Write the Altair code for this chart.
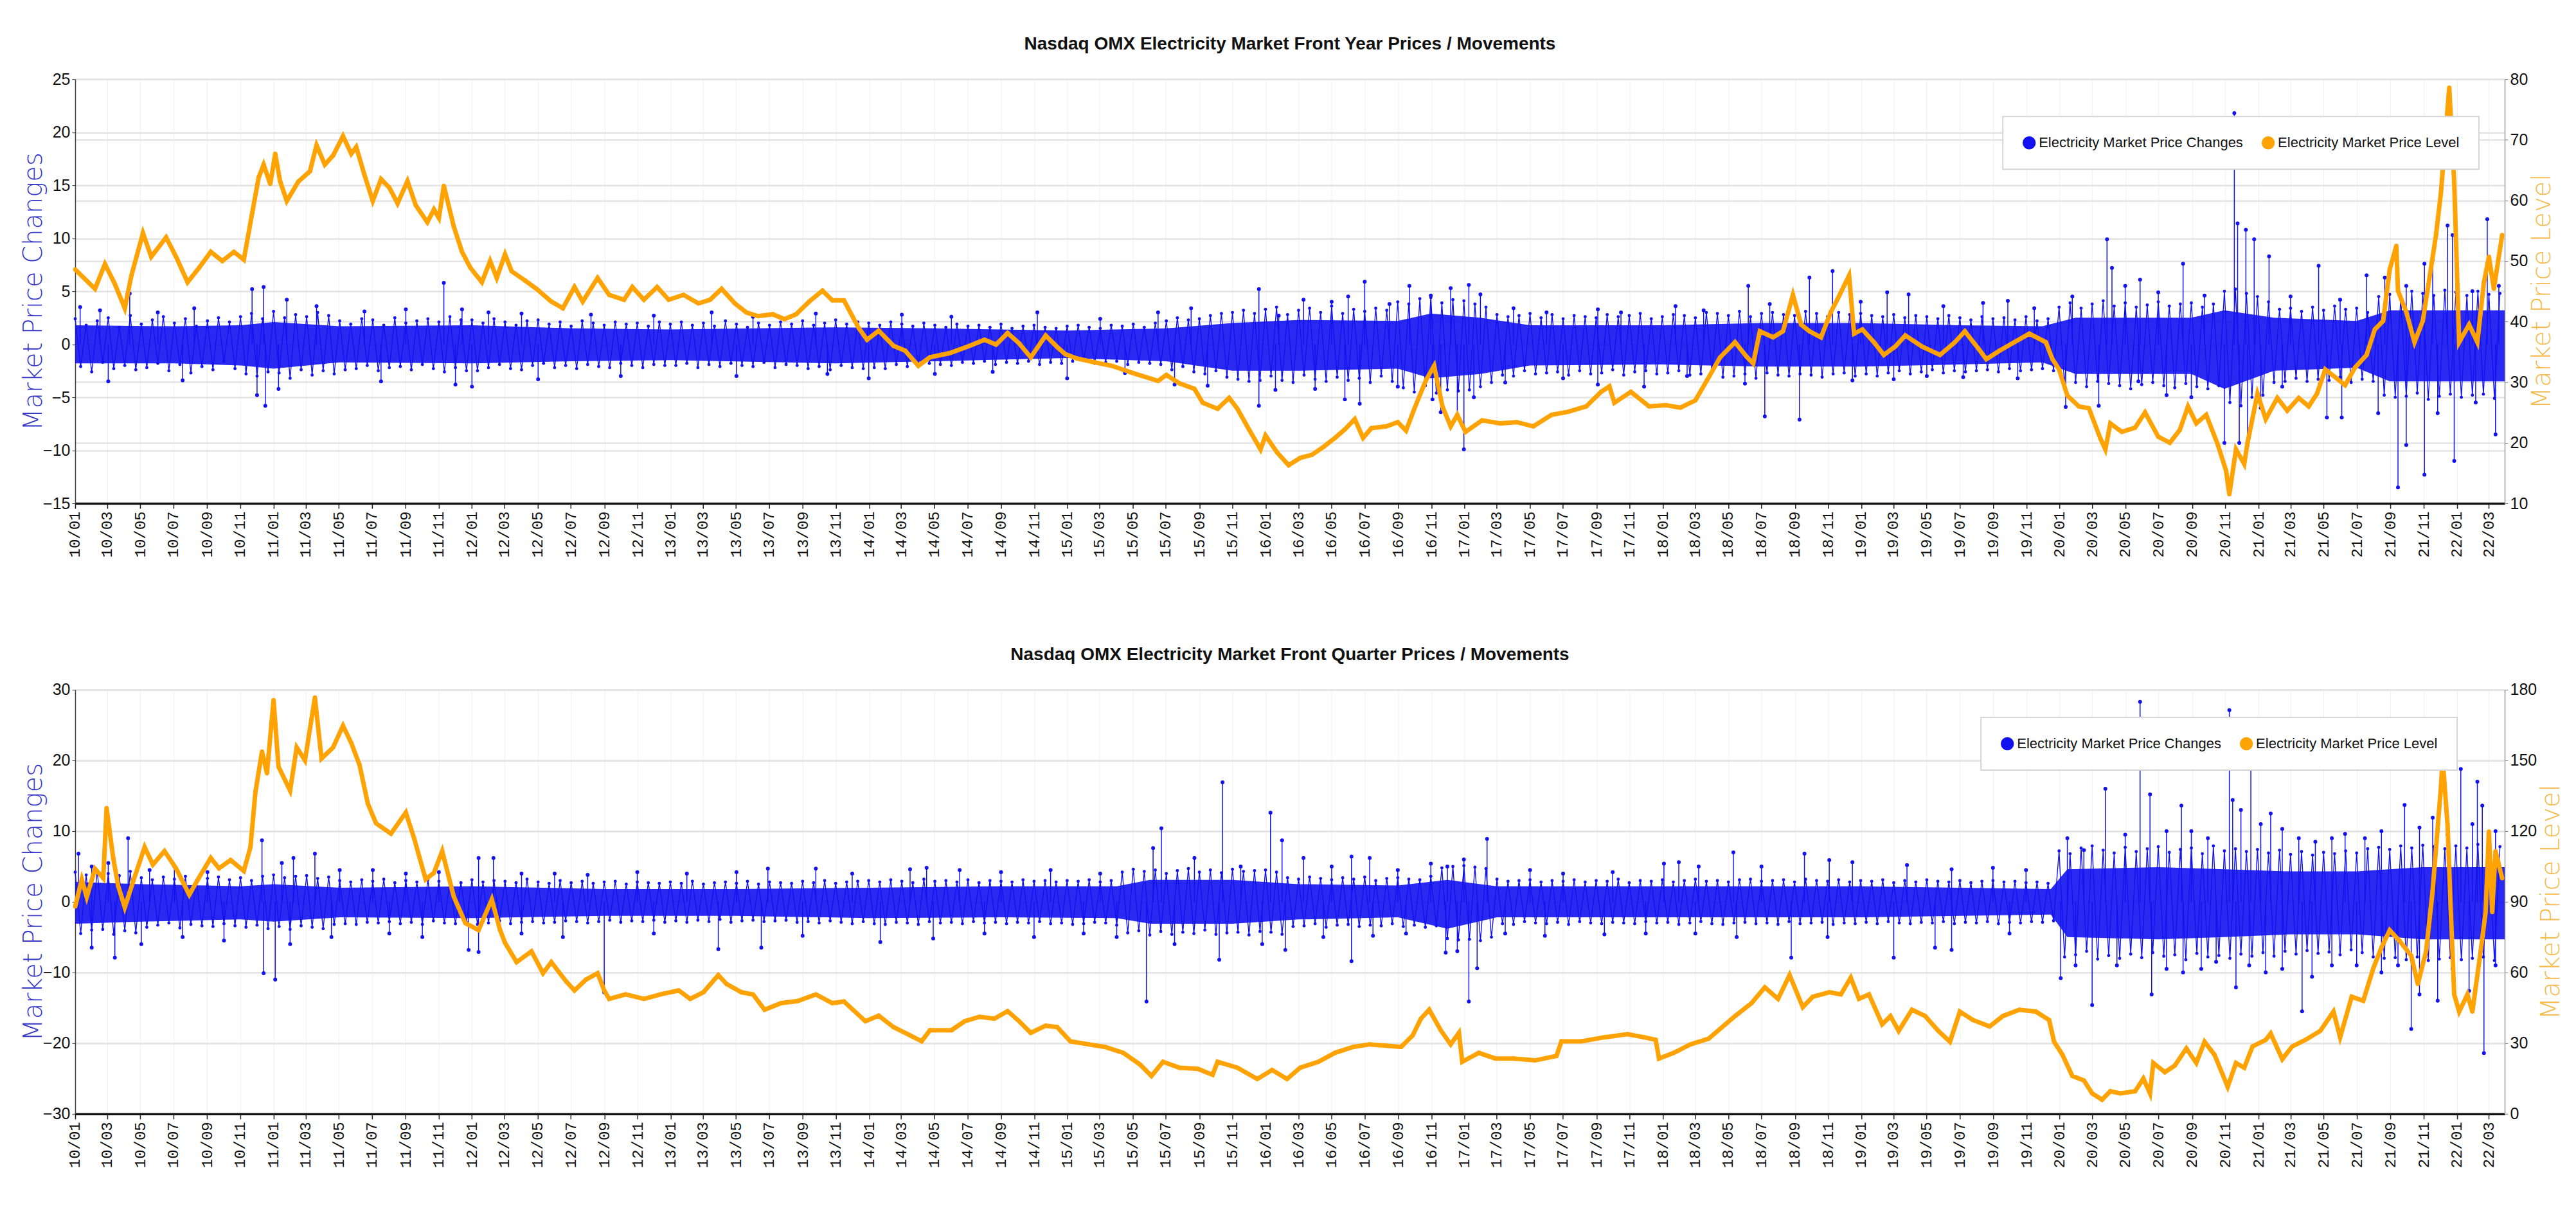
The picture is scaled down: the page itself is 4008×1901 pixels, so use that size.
import altair as alt
import pandas as pd

# ---------------------------------------------------------------- constants
SERIES = ["Electricity Market Price Changes", "Electricity Market Price Level"]
BLUE = "#1212f0"
ORANGE = "#ffa305"
START = pd.Timestamp("2010-01-01")
DAYS_PER_MONTH = 4442 / 146  # 2010-01-01 .. 2022-03-01

SANSN = "Liberation Sans, Arial, sans-serif"
MONO = "Liberation Mono, DejaVu Sans Mono, monospace"
SANS = "DejaVu Sans, Verdana, sans-serif"

TITLE_FY = "Nasdaq OMX Electricity Market Front Year Prices / Movements"
TITLE_FQ = "Nasdaq OMX Electricity Market Front Quarter Prices / Movements"

# x positions are months elapsed since Jan 2010
x_tick_dates = [alt.DateTime(year=y, month=m, date=1)
                for y in range(2010, 2023) for m in (1, 3, 5, 7, 9, 11)
                if not (y == 2022 and m > 3)]

# ---------------------------------------------------------------- Front Year
fy_level_m = [0, 1.2, 1.8, 2.4, 3.0, 3.4, 4.1, 4.6, 5.5, 6.1, 6.8, 7.5, 8.2, 8.9, 9.6, 10.2, 10.7, 11.1,
              11.4, 11.8, 12.1, 12.4, 12.8, 13.5, 14.2, 14.6, 15.1, 15.6, 16.2, 16.7, 17.0, 17.5, 18.0,
              18.5, 19.0, 19.5, 20.1, 20.6, 21.3, 21.7, 22.0, 22.3, 22.9, 23.4, 23.9, 24.6, 25.1, 25.5,
              26.0, 26.4, 27.2, 27.9, 28.8, 29.5, 30.2, 30.7, 31.6, 32.3, 33.2, 33.7, 34.4, 35.2, 35.9,
              36.8, 37.7, 38.4, 39.1, 39.9, 40.6, 41.3, 42.2, 42.9, 43.6, 44.4, 45.2, 45.8, 46.5, 47.4,
              47.9, 48.6, 49.5, 50.2, 51.0, 51.7, 52.9, 54.1, 55.0, 55.7, 56.4, 57.1, 57.8, 58.7, 59.4,
              59.9, 60.6, 61.6, 62.7, 64.1, 65.5, 66.0, 66.8, 67.7, 68.2, 69.1, 69.8, 70.3, 71.0, 71.7,
              72.0, 72.7, 73.4, 74.1, 74.8, 75.5, 76.2, 76.8, 77.4, 77.9, 78.4, 79.3, 80.0, 80.5, 81.0,
              81.7, 82.2, 82.7, 83.2, 83.6, 84.1, 85.1, 86.2, 87.2, 88.2, 89.3, 90.3, 91.4, 92.3, 92.8,
              93.1, 94.1, 95.2, 96.2, 97.1, 98.0, 98.7, 99.5, 100.4, 101.1, 101.5, 101.9, 102.7, 103.3,
              103.9, 104.4, 104.9, 105.6, 106.2, 106.6, 107.3, 107.6, 108.1, 108.8, 109.4, 110.1, 110.7,
              111.7, 112.8, 113.7, 114.3, 115.1, 115.6, 116.4, 117.3, 118.2, 119.2, 119.6, 120.0, 120.5,
              121.2, 121.8, 122.5, 122.8, 123.1, 123.8, 124.6, 125.2, 126.0, 126.7, 127.3, 127.8, 128.3,
              128.9, 129.6, 130.1, 130.3, 130.7, 131.2, 131.4, 132.0, 132.5, 133.2, 133.8, 134.5, 135.1,
              135.6, 136.1, 136.8, 137.3, 137.9, 138.6, 139.1, 139.6, 140.0, 140.4, 140.5, 141.0, 141.5,
              142.0, 142.5, 142.8, 143.1, 143.6, 143.9, 144.2, 144.8, 145.3, 145.7, 146.0, 146.3, 146.8]
fy_level_v = [48.6, 45.4, 49.5, 46.2, 42.2, 47.6, 54.6, 50.7, 53.9, 50.7, 46.5, 48.9, 51.5, 50.0, 51.5, 50.2,
              57.8, 63.8, 65.9, 62.7, 67.7, 63.1, 59.9, 63.1, 64.8, 69.1, 65.9, 67.4, 70.6, 67.7, 68.8,
              64.2, 59.9, 63.5, 62.1, 59.5, 63.2, 59.2, 56.4, 58.5, 57.1, 62.4, 55.7, 51.5, 48.9, 46.5,
              50.0, 47.2, 51.1, 48.3, 46.8, 45.4, 43.3, 42.2, 45.7, 43.3, 47.2, 44.4, 43.6, 45.7, 43.6,
              45.7, 43.6, 44.4, 43.0, 43.6, 45.4, 43.0, 41.5, 40.9, 41.2, 40.4, 41.2, 43.3, 45.1, 43.5,
              43.5, 38.9, 37.0, 38.5, 36.0, 35.2, 32.7, 34.1, 34.8, 36.0, 37.0, 36.2, 38.1, 36.4, 34.1,
              37.7, 35.8, 34.6, 33.9, 33.3, 32.7, 31.4, 30.2, 31.2, 29.8, 28.9, 26.6, 25.6, 27.4, 25.6,
              22.2, 18.9, 21.2, 18.4, 16.3, 17.5, 18.0, 19.3, 20.8, 22.2, 23.9, 20.8, 22.4, 22.7, 23.4,
              22.0, 25.6, 30.3, 32.7, 26.0, 22.7, 24.6, 21.8, 23.7, 23.2, 23.4, 22.7, 24.6, 25.1, 26.0,
              28.4, 29.3, 26.6, 28.4, 26.0, 26.2, 25.8, 27.0, 30.3, 34.1, 36.6, 34.2, 33.1, 38.4, 37.4,
              38.4, 44.4, 39.5, 38.4, 37.4, 41.6, 43.7, 47.6, 38.0, 38.7, 36.6, 34.5, 35.9, 37.7, 35.9,
              34.5, 36.6, 38.4, 35.6, 33.8, 35.2, 36.6, 38.0, 36.6, 33.8, 32.1, 27.8, 26.0, 25.7, 20.7,
              18.9, 23.2, 21.8, 22.5, 25.0, 21.0, 20.0, 22.1, 26.0, 23.2, 24.6, 19.7, 15.4, 11.5, 18.9,
              16.5, 20.0, 28.1, 23.9, 27.4, 25.3, 27.4, 26.0, 28.1, 32.1, 30.6, 29.5, 32.4, 34.5, 38.7,
              40.1, 48.6, 52.5, 45.1, 41.6, 36.6, 40.1, 48.9, 54.3, 61.3, 78.6, 63.1, 36.6, 39.5, 36.6,
              46.5, 50.7, 45.4, 54.3]

# dense core of the daily-change band (months, upper, lower)
fy_band_m = [0, 6, 10, 12, 16, 24, 30, 36, 46, 52, 60, 66, 70, 74, 80, 82, 85, 88, 96, 102, 108, 114,
             119, 121, 128, 130, 133, 138, 140, 146.95]
fy_band_hi = [1.8, 1.7, 1.8, 2.1, 1.7, 1.8, 1.5, 1.4, 1.6, 1.5, 1.3, 1.5, 2.0, 2.3, 2.2, 2.9, 2.5, 1.8,
              1.8, 2.0, 2.0, 1.8, 1.7, 2.5, 2.5, 3.2, 2.5, 2.2, 3.2, 3.2]
fy_band_lo = [-1.8, -1.8, -2.0, -2.3, -1.7, -1.8, -1.6, -1.5, -1.8, -1.6, -1.3, -1.6, -2.5, -2.5, -2.3,
              -3.2, -2.8, -2.0, -1.9, -2.1, -2.1, -1.9, -1.7, -2.8, -2.8, -4.2, -2.5, -2.2, -3.5, -3.5]

# daily changes sampled three times a month (Jan 2010 onwards)
fy_change_v = [
    2.4, -2.1, 1.8, -2.6, 2.2, -1.7, 2.5, -2.3, 1.6, -2.0, 2.7, -2.4, 1.9, -2.2, 2.3, -1.8, 2.6, -2.5,
    2.0, -1.9, 2.4, -2.7, 1.7, -2.1, 2.2, -2.4, 2.5, -1.6, 2.1, -2.3, 2.6, -2.8, 2.9, -3.0, 2.4, -2.6,
    3.1, -2.7, 2.5, -3.2, 2.8, -2.4, 2.6, -2.9, 3.0, -2.5, 2.7, -2.8, 2.2, -2.4, 1.9, -2.3, 2.4, -2.0,
    2.3, -2.5, 1.8, -2.2, 2.5, -2.1, 2.0, -2.4, 2.2, -1.9, 2.4, -2.3, 2.1, -2.6, 2.6, -2.2, 2.3, -2.5,
    2.3, -2.5, 2.0, -2.2, 2.4, -1.9, 2.1, -2.3, 1.8, -2.4, 2.2, -2.0, 2.3, -1.8, 1.9, -2.2, 2.1, -2.0,
    1.7, -2.3, 2.2, -1.9, 2.0, -2.1, 1.8, -2.2, 2.1, -1.8, 1.9, -2.0, 2.0, -2.2, 1.7, -1.9, 2.1, -2.0,
    1.9, -2.0, 2.1, -1.8, 1.8, -2.2, 2.0, -1.9, 1.7, -2.1, 2.2, -1.8, 1.9, -2.0, 1.6, -2.1, 2.0, -1.7,
    1.8, -2.2, 2.1, -1.9, 1.9, -2.0, 2.2, -2.3, 1.8, -2.1, 2.0, -2.4, 2.3, -2.0, 1.9, -2.2, 2.1, -2.3,
    2.0, -2.2, 1.8, -2.3, 2.1, -1.9, 1.9, -2.1, 1.7, -2.0, 2.0, -1.8, 1.8, -1.9, 1.6, -2.0, 1.9, -1.7,
    1.7, -1.8, 1.8, -1.6, 1.6, -1.9, 1.9, -1.7, 1.5, -1.8, 1.7, -1.6, 1.8, -1.9, 1.6, -1.7, 1.5, -1.8,
    1.7, -1.6, 1.8, -1.5, 1.6, -1.8, 1.5, -1.7, 1.8, -1.6, 1.7, -1.9, 1.9, -1.7, 1.6, -1.8, 2.0, -1.9,
    2.2, -2.4, 2.5, -2.1, 2.3, -2.6, 2.4, -2.8, 2.7, -2.5, 2.9, -3.1, 3.0, -3.3, 3.2, -3.5, 2.9, -3.4,
    3.3, -3.0, 3.5, -3.4, 2.8, -3.6, 3.2, -2.9, 3.4, -3.3, 3.0, -3.5, 3.6, -3.1, 2.9, -3.4, 3.3, -3.2,
    3.1, -3.6, 3.4, -3.0, 3.2, -3.5, 4.0, -4.1, 3.8, -4.5, 4.3, -3.9, 4.4, -4.6, 3.9, -4.3, 4.2, -4.4,
    4.1, -4.3, 3.8, -4.0, 3.5, -3.6, 2.8, -2.9, 2.6, -3.0, 2.7, -2.5, 2.9, -2.8, 2.5, -2.7, 2.8, -2.6,
    2.4, -2.9, 2.7, -2.5, 2.6, -2.8, 2.5, -2.7, 2.8, -2.4, 2.6, -2.9, 2.7, -2.6, 2.9, -2.5, 2.4, -2.8,
    2.6, -2.7, 2.8, -2.5, 2.7, -2.9, 2.5, -2.8, 3.0, -2.6, 2.9, -3.1, 2.7, -3.0, 3.1, -2.8, 2.6, -3.2,
    2.9, -2.7, 3.0, -2.9, 2.8, -3.0, 2.7, -2.8, 3.1, -2.9, 2.9, -3.1, 2.6, -2.8, 3.0, -2.7, 2.8, -3.0,
    2.9, -2.8, 2.7, -3.0, 2.6, -2.7, 2.8, -2.5, 2.5, -2.8, 2.7, -2.6, 2.6, -2.4, 2.4, -2.7, 2.7, -2.5,
    2.5, -2.6, 2.3, -2.5, 2.6, -2.4, 2.4, -2.6, 2.5, -2.3, 2.3, -2.5, 2.6, -2.4, 2.2, -2.3, 2.4, -2.5,
    3.5, -3.8, 3.9, -3.6, 3.4, -4.0, 3.8, -3.5, 4.1, -3.7, 3.6, -3.9, 3.9, -4.2, 3.5, -3.8, 3.7, -3.6,
    4.0, -3.9, 3.6, -4.1, 3.8, -3.7, 3.9, -4.0, 3.5, -4.2, 3.8, -3.9, 5.0, -5.5, 5.2, -5.8, 4.8, -5.0,
    4.5, -4.8, 4.0, -3.6, 3.3, -3.5, 3.4, -3.2, 3.1, -3.5, 3.5, -3.3, 3.2, -3.4, 3.6, -3.1, 3.3, -3.6,
    3.4, -3.3, 3.0, -3.5, 4.5, -4.8, 4.7, -5.0, 4.4, -4.9, 5.0, -4.6, 4.8, -5.2, 4.6, -4.9, 5.1, -4.7,
    4.9, -5.0, 4.6, -4.8, 5.0, -4.7, 4.7, -5.1, 4.8]

fy_spike_m = [0.3, 1.5, 3.3, 5.0, 7.2, 10.7, 11.4, 12.8, 14.6, 17.5, 20.0, 22.3, 23.4, 25.0, 27.0, 31.2,
              35.0, 38.5, 41.0, 44.8, 50.0, 53.0, 58.2, 62.0, 65.5, 67.5, 71.6, 72.8, 74.3, 76.0, 77.0,
              78.0, 79.5, 80.7, 82.0, 83.2, 84.3, 85.0, 87.0, 89.0, 92.1, 93.5, 96.8, 98.5, 101.2, 102.5,
              104.9, 106.3, 108.0, 109.6, 110.9, 113.0, 115.4, 116.9, 118.5, 120.8, 122.9, 123.2, 124.0,
              124.9, 126.0, 127.5, 128.8, 130.6, 130.8, 131.3, 131.8, 132.7, 134.0, 135.7, 137.0, 138.6,
              139.7, 141.0, 142.1, 142.6, 143.5, 143.8, 145.0, 145.9, 146.6,
              2.0, 6.5, 11.0, 11.5, 12.3, 18.5, 23.0, 24.0, 28.0, 33.0, 40.0, 45.5, 48.0, 52.0, 55.5,
              60.0, 63.5, 66.5, 68.5, 71.6, 72.6, 75.0, 76.8, 77.7, 80.0, 82.1, 82.6, 83.6, 84.0, 84.6,
              86.5, 90.0, 92.1, 94.9, 97.5, 101.0, 102.2, 104.3, 107.5, 110.0, 112.0, 114.2, 117.5,
              120.4, 122.4, 124.8, 126.5, 128.0, 130.0, 130.9, 131.4, 132.2, 133.5, 136.2, 137.1, 139.3,
              140.5, 141.0, 142.1, 142.9, 143.9, 145.2, 146.4]
fy_spike_v = [3.5, 3.2, 4.8, 3.0, 3.4, 5.2, 5.4, 4.2, 3.6, 3.1, 3.3, 5.8, 3.3, 3.0, 2.9, 2.8, 2.7, 3.0,
              2.6, 2.9, 2.8, 2.6, 3.0, 2.4, 3.0, 3.4, 5.2, 2.7, 4.2, 4.0, 4.5, 5.9, 3.8, 5.5, 4.6, 5.3,
              5.6, 4.7, 3.4, 3.0, 3.3, 3.0, 3.6, 3.2, 5.5, 3.8, 6.3, 6.9, 4.0, 4.9, 4.7, 3.6, 3.9, 4.1,
              3.4, 4.5, 9.9, 7.2, 5.5, 6.1, 4.9, 7.6, 4.6, 21.8, 11.4, 10.8, 9.9, 8.3, 4.5, 7.4, 4.2,
              6.5, 6.3, 5.5, 7.6, 8.0, 11.2, 10.3, 5.0, 11.8, 5.5,
              -3.5, -3.4, -4.8, -5.8, -4.2, -3.5, -3.8, -4.0, -3.3, -3.0, -3.0, -2.8, -3.2, -2.8, -2.6,
              -3.2, -2.7, -3.8, -3.9, -5.8, -4.3, -4.2, -5.2, -5.6, -4.0, -5.2, -6.4, -6.9, -9.9, -5.0,
              -3.6, -3.2, -3.8, -4.0, -3.0, -3.7, -6.8, -7.1, -3.4, -3.3, -3.0, -3.1, -3.2,
              -5.9, -5.8, -3.5, -4.8, -5.0, -9.3, -9.3, -9.5, -6.0, -4.0, -6.9, -6.9, -6.5,
              -13.5, -9.5, -12.3, -6.5, -11.0, -5.5, -8.5]

# ---------------------------------------------------------------- Front Quarter
fq_level_m = [0, 0.4, 0.7, 1.2, 1.7, 1.9, 2.3, 2.6, 3.0, 3.5, 4.2, 4.7, 5.4, 6.1, 6.9, 7.5, 8.2, 8.7,
              9.4, 10.2, 10.6, 10.9, 11.3, 11.6, 12.0, 12.3, 13.0, 13.4, 13.9, 14.5, 14.9, 15.6, 16.2,
              16.7, 17.2, 17.7, 18.2, 19.1, 20.0, 20.5, 21.2, 21.7, 22.2, 22.9, 23.6, 24.4, 25.2, 25.7,
              26.0, 26.7, 27.6, 28.3, 28.8, 29.7, 30.2, 30.9, 31.6, 32.0, 32.3, 33.3, 34.4, 35.4, 36.5,
              37.2, 38.0, 38.9, 39.4, 40.3, 41.0, 41.7, 42.7, 43.7, 44.8, 45.8, 46.5, 47.8, 48.6, 49.5,
              50.5, 51.2, 51.7, 53.0, 53.8, 54.7, 55.6, 56.4, 57.1, 57.8, 58.7, 59.4, 60.2, 61.3, 62.3,
              63.4, 64.4, 65.1, 65.8, 66.8, 67.9, 68.8, 69.1, 70.3, 71.5, 72.4, 73.3, 74.1, 75.2, 76.2,
              77.3, 78.3, 79.3, 80.2, 80.9, 81.4, 81.9, 82.6, 83.2, 83.7, 83.9, 84.9, 85.9, 87.0, 88.3,
              89.6, 89.9, 91.1, 92.5, 93.9, 94.9, 95.6, 95.8, 96.7, 97.7, 98.8, 99.8, 100.4, 101.4,
              102.2, 103.0, 103.7, 104.5, 105.1, 106.1, 106.8, 107.4, 107.9, 108.5, 109.3, 109.8, 110.3,
              111.1, 111.9, 112.7, 113.4, 114.0, 114.8, 115.8, 116.6, 117.6, 118.6, 119.4, 119.7, 120.2,
              120.8, 121.5, 122.0, 122.6, 123.1, 123.7, 124.6, 125.1, 125.5, 125.7, 126.4, 127.0, 127.7,
              128.3, 128.8, 129.4, 130.2, 130.7, 131.2, 131.7, 132.5, 132.8, 133.5, 134.1, 134.9, 135.8,
              136.6, 137.0, 137.7, 138.4, 139.0, 139.5, 140.0, 140.6, 141.3, 141.7, 142.2, 142.6, 143.1,
              143.2, 143.5, 143.7, 143.9, 144.2, 144.7, 145.0, 145.5, 145.8, 146.0, 146.2, 146.4, 146.8]
fq_level_v = [88, 99.5, 92, 104, 100, 129.8, 108.6, 96.8, 87.6, 98.5, 113.2, 105.8, 111.5, 104.2, 93,
              100.4, 108.6, 104.2, 107.7, 103.1, 113.2, 136.4, 153.8, 144.5, 175.6, 147.3, 137.2, 155.5,
              150, 176.7, 150.8, 155.5, 164.7, 157.4, 148.1, 131.7, 123.3, 118.9, 127.9, 117, 99.5, 102.3,
              111.5, 92.2, 81, 78, 91, 78, 72.6, 64.4, 69, 59.7, 64.4, 56.2, 52.4, 57, 59.7, 52.4, 48.8,
              50.7, 48.8, 50.7, 52.4, 48.8, 51.6, 58.9, 55.1, 51.6, 50.7, 44.2, 47, 47.9, 50.7, 47, 47.7,
              39.3, 41.7, 36.8, 33.3, 30.8, 35.5, 35.5, 39.3, 41.2, 40.4, 43.6, 39.3, 34.4, 37.4, 36.8,
              30.8, 29.5, 28.4, 25.9, 21, 16.1, 22.1, 19.6, 19.1, 16.6, 22.1, 19.6, 14.8, 18.6, 14.8,
              19.6, 22.1, 25.9, 28.4, 29.5, 28.9, 28.4, 33.3, 40.4, 44.2, 35.5, 29.5, 34.4, 22.1, 25.9,
              23.5, 23.5, 22.7, 24.6, 30.8, 30.8, 32.5, 33.8, 32.5, 31.4, 23.5, 25.9, 29.5, 31.9, 37.9,
              41.5, 47, 53.7, 48.8, 58.9, 45.3, 49.7, 51.6, 50.7, 57.8, 48.8, 50.7, 38, 41.5, 35.2, 44.2,
              41.5, 35.2, 30.6, 43.4, 39.8, 37.1, 41.5, 44.2, 43.4, 39.8, 30.6, 25.1, 16.1, 14.2, 8.7, 6,
              9.6, 8.7, 9.6, 15, 8.7, 21.6, 17.7, 20.5, 27.8, 21.6, 30.6, 25.1, 11.5, 21.6, 19.6, 28.6,
              31.4, 34.1, 23.2, 28.6, 31.4, 35.2, 43.4, 32.5, 49.7, 48, 61.6, 70.6, 77.9, 73.4, 67.1, 55.1,
              69, 95, 139, 150.8, 122.5, 85, 50.7, 43.4, 50.7, 43.4, 69, 85.6, 119.8, 85.6, 111.5, 100]

fq_band_m = [0, 4, 10, 12, 16, 24, 32, 40, 48, 56, 63, 65, 70, 74, 80, 83, 86, 92, 100, 108, 119.5,
             120.5, 126, 130, 134, 138, 142, 146.95]
fq_band_hi = [2.8, 2.5, 2.2, 2.5, 2.0, 2.2, 1.8, 1.8, 2.0, 2.2, 2.2, 3.1, 3.1, 2.5, 2.3, 3.1, 2.2, 2.2,
              2.2, 2.2, 1.8, 4.6, 4.9, 4.6, 4.3, 4.3, 4.9, 4.9]
fq_band_lo = [-3.1, -2.8, -2.5, -2.8, -2.2, -2.3, -2.0, -2.0, -2.3, -2.2, -2.3, -3.1, -3.1, -2.5, -2.2,
              -3.8, -2.2, -2.2, -2.2, -2.2, -1.8, -5.0, -5.3, -5.0, -4.6, -4.6, -5.3, -5.3]

fq_change_v = [
    4.2, -4.5, 3.8, -4.0, 4.4, -3.9, 4.0, -4.6, 3.7, -4.1, 4.3, -4.4, 3.4, -3.6, 3.1, -3.3, 3.5, -3.0,
    3.2, -3.7, 3.6, -3.2, 3.0, -3.4, 3.3, -3.5, 3.5, -3.1, 3.1, -3.4, 3.4, -3.6, 3.0, -3.3, 3.6, -3.8,
    3.8, -3.5, 3.4, -3.9, 3.6, -3.4, 3.7, -3.6, 3.3, -3.8, 3.5, -3.2, 3.0, -3.1, 2.8, -3.2, 3.1, -2.9,
    2.9, -3.0, 3.2, -2.8, 2.7, -3.1, 3.0, -2.9, 2.8, -3.2, 3.1, -2.7, 2.9, -3.0, 3.0, -3.1, 2.7, -2.9,
    3.1, -3.2, 2.8, -3.0, 3.0, -2.7, 2.9, -3.1, 2.7, -2.9, 3.2, -2.8, 2.8, -3.0, 2.6, -2.9, 3.0, -2.7,
    2.7, -2.8, 2.9, -3.0, 2.6, -2.8, 2.8, -2.6, 2.9, -2.9, 2.5, -2.7, 2.8, -2.8, 2.7, -2.6, 2.6, -2.9,
    2.8, -2.7, 2.6, -2.9, 2.9, -2.6, 2.5, -2.8, 2.7, -2.5, 2.8, -2.9, 2.6, -2.7, 2.9, -2.6, 2.5, -2.8,
    2.8, -2.7, 2.7, -2.6, 2.6, -2.9, 2.9, -2.8, 2.7, -3.0, 3.0, -2.7, 2.6, -2.9, 2.8, -3.1, 2.9, -2.8,
    3.0, -3.1, 2.8, -3.2, 3.1, -2.9, 2.9, -3.0, 2.7, -3.2, 3.2, -2.8, 2.9, -3.0, 3.0, -2.9, 2.8, -3.1,
    3.1, -2.8, 2.7, -3.0, 3.0, -2.9, 2.9, -3.1, 2.8, -2.9, 3.1, -3.0, 2.9, -2.8, 3.0, -3.1, 2.8, -3.0,
    3.0, -3.2, 2.9, -3.1, 3.1, -2.9, 2.8, -3.0, 3.0, -3.3, 4.2, -4.4, 4.6, -4.1, 4.3, -4.7, 4.5, -4.2,
    4.0, -4.6, 4.4, -4.3, 4.7, -4.5, 4.2, -4.0, 4.5, -4.6, 4.1, -4.4, 4.6, -4.3, 4.3, -4.7, 4.4, -4.2,
    4.5, -4.3, 4.2, -4.6, 3.4, -3.5, 3.2, -3.4, 3.5, -3.1, 3.3, -3.6, 3.1, -3.3, 3.4, -3.2, 3.2, -3.5,
    3.5, -3.3, 3.0, -3.4, 3.3, -3.1, 3.4, -3.5, 3.2, -3.3, 3.1, -3.6, 3.6, -3.4, 4.8, -5.2, 5.0, -5.4,
    5.1, -5.3, 4.9, -5.5, 4.7, -5.0, 3.2, -3.1, 2.9, -3.2, 3.0, -2.8, 3.1, -3.0, 2.8, -3.1, 3.0, -2.9,
    2.9, -3.2, 3.1, -2.8, 2.8, -3.0, 3.0, -3.1, 2.9, -2.9, 3.2, -3.0, 2.7, -3.1, 3.0, -2.8, 2.9, -3.0,
    3.1, -2.9, 2.8, -3.2, 3.0, -3.0, 3.2, -2.8, 2.9, -3.1, 3.0, -3.2, 2.8, -3.0, 3.1, -2.9, 3.2, -3.1,
    2.9, -3.0, 3.0, -3.2, 3.1, -2.8, 2.8, -3.1, 3.2, -3.0, 3.0, -2.9, 2.9, -3.2, 3.1, -3.0, 2.8, -3.1,
    3.0, -2.9, 2.9, -3.1, 3.1, -2.8, 2.7, -3.0, 3.0, -3.1, 2.8, -2.9, 3.1, -3.0, 2.9, -2.8, 2.8, -3.1,
    3.0, -2.9, 2.7, -3.0, 2.9, -2.8, 3.0, -3.1, 2.8, -2.9, 2.9, -3.0, 2.7, -2.8, 2.8, -2.9, 2.6, -2.7,
    7.2, -7.8, 6.8, -7.5, 7.6, -7.0, 7.9, -8.1, 7.3, -7.6, 6.9, -8.0, 7.7, -7.4, 7.1, -7.9, 7.5, -7.2,
    7.8, -7.7, 7.0, -7.5, 7.4, -8.2, 7.6, -7.3, 6.8, -7.8, 7.9, -7.6, 7.2, -8.0, 7.5, -7.4, 7.1, -7.7,
    7.4, -7.2, 6.9, -7.7, 7.3, -7.0, 6.7, -7.4, 7.1, -6.9, 6.6, -7.3, 7.0, -7.1, 6.8, -7.5, 7.2, -6.8,
    6.9, -7.2, 7.5, -7.8, 7.7, -8.0, 7.4, -7.9, 7.9, -8.2, 7.6, -7.8, 8.0, -8.3, 7.8, -8.1, 7.5, -7.9,
    7.9, -8.2, 7.6, -8.0, 8.1, -7.8, 7.7, -8.3, 7.8]

fq_spike_m = [0.2, 1.0, 2.0, 3.2, 4.5, 6.0, 8.0, 11.3, 12.5, 13.2, 14.5, 16.0, 18.0, 20.0, 22.0, 24.4,
              25.3, 27.0, 29.0, 31.0, 34.0, 37.0, 40.0, 41.9, 44.8, 47.0, 50.5, 51.5, 53.5, 56.0, 59.0,
              62.0, 65.2, 65.7, 67.7, 69.4, 70.5, 72.3, 73.0, 74.3, 76.0, 77.2, 78.3, 80.0, 82.0, 83.0,
              84.0, 85.4, 88.0, 90.0, 93.0, 96.1, 97.0, 98.2, 100.3, 102.0, 104.6, 106.1, 107.5, 110.8,
              113.5, 116.0, 118.0, 120.5, 121.5, 122.8, 124.0, 124.9, 125.5, 126.5, 127.4, 128.0, 129.0,
              130.3, 130.5, 131.0, 131.6, 132.2, 132.8, 133.5, 134.5, 135.5, 136.5, 137.3, 138.5, 139.5,
              140.9, 141.8, 142.6, 143.5, 144.3, 145.0, 145.3, 145.6, 146.4,
              1.0, 2.4, 4.0, 6.5, 9.0, 11.4, 12.1, 13.0, 15.5, 19.0, 21.0, 23.8, 24.4, 27.0, 29.5, 32.0,
              35.0, 38.9, 41.5, 44.0, 48.7, 51.9, 55.0, 58.0, 61.0, 63.0, 64.8, 66.5, 69.2, 71.8, 73.2,
              75.5, 77.2, 78.5, 80.5, 82.9, 83.6, 84.3, 84.8, 86.5, 88.9, 92.5, 95.0, 98.0, 100.5, 103.8,
              106.0, 110.0, 112.5, 113.5, 117.0, 120.1, 121.0, 122.0, 123.5, 125.6, 126.5, 127.5, 128.6,
              129.5, 130.7, 131.5, 132.5, 133.5, 134.7, 135.3, 136.5, 138.0, 139.5, 140.5, 141.3, 141.8,
              142.9, 143.8, 144.8, 145.7, 146.4]
fq_spike_v = [6.8, 5.0, 5.5, 9.0, 4.5, 5.0, 4.2, 8.7, 5.5, 6.2, 6.8, 4.5, 4.5, 4.0, 4.2, 6.2, 6.2, 4.0,
              4.0, 3.8, 4.2, 4.0, 4.2, 4.7, 4.7, 4.0, 4.6, 4.8, 4.5, 4.2, 4.5, 4.0, 7.6, 10.4, 6.2, 16.9,
              5.0, 12.6, 8.7, 6.2, 5.0, 6.4, 6.2, 4.5, 5.4, 5.0, 6.0, 8.9, 4.5, 4.0, 4.2, 5.4, 5.6, 5.0,
              7.0, 5.0, 6.8, 5.9, 5.6, 5.2, 4.6, 4.8, 4.5, 9.0, 7.3, 16.0, 9.5, 28.3, 15.2, 10.0, 13.6,
              10.0, 9.0, 27.1, 14.4, 13.0, 19.5, 11.0, 12.5, 10.3, 9.0, 8.5, 9.0, 9.6, 9.0, 10.0, 13.7,
              10.5, 11.9, 9.5, 18.8, 11.0, 17.0, 13.6, 10.0,
              -6.5, -7.9, -6.0, -5.0, -5.5, -10.1, -11.0, -6.0, -5.0, -4.5, -5.0, -6.8, -7.1, -4.5, -5.0,
              -12.8, -4.5, -6.7, -6.5, -4.8, -5.7, -5.2, -4.5, -5.0, -4.5, -5.0, -14.1, -6.0, -8.2, -6.0,
              -6.8, -5.0, -8.4, -4.8, -4.5, -7.2, -7.0, -14.1, -9.4, -4.5, -4.8, -4.6, -4.5, -4.5, -5.0,
              -7.9, -5.0, -7.9, -6.5, -6.8, -4.5, -10.8, -9.0, -14.6, -9.0, -13.1, -9.5, -10.0, -9.5,
              -8.5, -12.1, -9.0, -10.0, -9.5, -15.5, -10.6, -9.0, -9.0, -10.0, -9.0, -18.0, -13.1,
              -14.0, -9.5, -12.6, -21.4, -9.0]


def to_dates(months):
    return [START + pd.Timedelta(days=float(m) * DAYS_PER_MONTH) for m in months]


W, H = 3781, 660
X_DOMAIN = [alt.DateTime(year=2010, month=1, date=1), alt.DateTime(year=2022, month=3, date=30)]

x_axis = alt.Axis(values=x_tick_dates, format="%y/%m", formatType="time", labelAngle=-90,
                  labelFont=MONO, labelFontSize=24, labelColor="#111", labelPadding=4,
                  labelOverlap=False, labelFlush=False, tickSize=8, tickColor="#222", tickWidth=1.5,
                  domainColor="#111", domainWidth=3.5, grid=True, gridColor="#efefef", gridWidth=1,
                  title=None)


def left_axis(ticks):
    return alt.Axis(values=ticks, orient="left", labelFont=SANSN, labelFontSize=25, labelColor="#111",
                    labelPadding=3, tickSize=5, tickColor="#333", domainColor="#444", domainWidth=1.5,
                    grid=True, gridColor="#e4e4e4", gridWidth=2.5,
                    title="Market Price Changes", titleFont=SANS, titleFontSize=40,
                    titleFontWeight=200, titleColor="#3a3ac8", titlePadding=-6)


def right_axis(ticks):
    return alt.Axis(values=ticks, orient="right", labelFont=SANSN, labelFontSize=25, labelColor="#111",
                    labelPadding=3, tickSize=5, tickColor="#777", domainColor="#999", domainWidth=1.5,
                    grid=True, gridColor="#e4e4e4", gridWidth=2.5,
                    title="Market Price Level", titleFont=SANS, titleFontSize=40,
                    titleFontWeight=200, titleColor="#f5bb4c", titlePadding=3, titleAngle=270,
                    titleBaseline="top")


def panel(title, band_m, band_hi, band_lo, change_v, spike_m, spike_v, level_m, level_v,
          left_dom, left_ticks, right_dom, right_ticks, legend_x, legend_y):
    band_df = pd.DataFrame({"date": to_dates(band_m), "hi": band_hi, "lo": band_lo})
    change_df = pd.DataFrame({"date": to_dates([i / 3 for i in range(len(change_v))]), "v": change_v})
    spike_df = pd.DataFrame({"date": to_dates(spike_m), "v": spike_v, "series": SERIES[0]})
    level_df = pd.DataFrame({"date": to_dates(level_m), "v": level_v, "series": SERIES[1]})

    x = alt.X("date:T", scale=alt.Scale(domain=X_DOMAIN), axis=x_axis)
    yl = alt.Scale(domain=left_dom, nice=False, zero=False)
    yr = alt.Scale(domain=right_dom, nice=False, zero=False)
    la = left_axis(left_ticks)
    ra = right_axis(right_ticks)
    color = alt.Color("series:N", scale=alt.Scale(domain=SERIES, range=[BLUE, ORANGE]),
                      legend=alt.Legend(orient="none", legendX=legend_x, legendY=legend_y,
                                        direction="horizontal", title=None, symbolType="circle",
                                        symbolSize=420, symbolOpacity=1, symbolStrokeWidth=0,
                                        labelLimit=0, labelFont=SANSN, labelFontSize=22,
                                        labelColor="#111", columnPadding=28, padding=30,
                                        fillColor="white", strokeColor="#d6d6d6"))

    band = alt.Chart(band_df).mark_area(color=BLUE, opacity=0.9).encode(
        x=x, y=alt.Y("hi:Q", scale=yl, axis=la), y2="lo:Q")
    zig = alt.Chart(change_df).mark_line(color=BLUE, strokeWidth=1.4).encode(
        x=x, y=alt.Y("v:Q", scale=yl, axis=la))
    zig_pts = alt.Chart(change_df).mark_circle(color=BLUE, size=24, opacity=1).encode(
        x=x, y=alt.Y("v:Q", scale=yl, axis=la))
    rules = alt.Chart(spike_df).mark_rule(color=BLUE, strokeWidth=1.5).encode(
        x=x, y=alt.Y("v:Q", scale=yl, axis=la), y2=alt.datum(0))
    tips = alt.Chart(spike_df).mark_circle(size=36, opacity=1).encode(
        x=x, y=alt.Y("v:Q", scale=yl, axis=la), color=color)
    blue = alt.layer(band, zig, zig_pts, rules, tips)

    line = alt.Chart(level_df).mark_line(color=ORANGE, strokeWidth=7).encode(
        x=x, y=alt.Y("v:Q", scale=yr, axis=ra))
    dots = alt.Chart(level_df).mark_circle(size=44, opacity=1).encode(
        x=x, y=alt.Y("v:Q", scale=yr, axis=ra), color=color)
    orange = alt.layer(line, dots)

    return alt.layer(blue, orange).resolve_scale(y="independent").properties(
        width=W, height=H,
        title=alt.TitleParams(title, font=SANSN, fontSize=28, fontWeight="bold", color="#111",
                              anchor="middle", offset=28))


top = panel(TITLE_FY, fy_band_m, fy_band_hi, fy_band_lo, fy_change_v, fy_spike_m, fy_spike_v,
            fy_level_m, fy_level_v, [-15, 25], [-15, -10, -5, 0, 5, 10, 15, 20, 25],
            [10, 80], [10, 20, 30, 40, 50, 60, 70, 80], 3000, 58)
bottom = panel(TITLE_FQ, fq_band_m, fq_band_hi, fq_band_lo, fq_change_v, fq_spike_m, fq_spike_v,
               fq_level_m, fq_level_v, [-30, 30], [-30, -20, -10, 0, 10, 20, 30],
               [0, 180], [0, 30, 60, 90, 120, 150, 180], 2966, 43)

chart = alt.vconcat(top, bottom, spacing=137).resolve_scale(color="independent").resolve_legend(
    color="independent").properties(
    padding={"left": 24, "top": 47, "right": 10, "bottom": 10}, background="white"
).configure_view(stroke=None).configure_legend(strokeWidth=2)

chart.save("out.html", embed_options={"renderer": "svg", "actions": False})
